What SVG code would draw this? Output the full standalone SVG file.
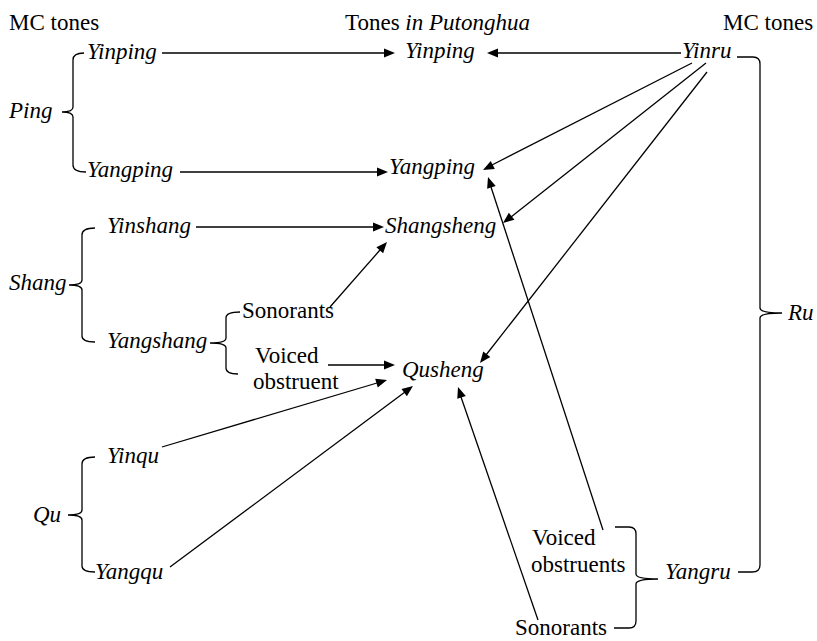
<svg xmlns="http://www.w3.org/2000/svg" width="817" height="641" viewBox="0 0 817 641">
<style>
  .t { font-family: 'Liberation Serif', serif; font-size: 23px; fill: #000; }
  .it { font-style: italic; }
  .br { fill: none; stroke: #000; stroke-width: 1.3; }
  .cn { fill: none; stroke: #000; stroke-width: 1.3; }
  .ah { fill: #000; stroke: none; }
</style>
<rect width="817" height="641" fill="#fff"/>
<g id="headers">
  <text class="t" style="font-family:'Liberation Serif'" x="9" y="30">MC tones</text>
  <text class="t" style="font-family:'Liberation Serif'" x="345" y="30">Tones <tspan class="it">in Putonghua</tspan></text>
  <text class="t" style="font-family:'Liberation Serif'" x="723" y="30">MC tones</text>
</g>

<g id="ping">
  <text class="t it" style="font-family:'Liberation Serif'" x="9" y="118">Ping</text>
  <path class="br" d="M84,53 Q73,53 73,60 L73,107 Q73,112 62,112 Q73,112 73,117 L73,165 Q73,172 86,172"/>
</g>
<g id="yinping-mc"><text class="t it" style="font-family:'Liberation Serif'" x="87" y="59">Yinping</text></g>
<g id="yangping-mc"><text class="t it" style="font-family:'Liberation Serif'" x="87" y="177">Yangping</text></g>

<g id="shang">
  <text class="t it" style="font-family:'Liberation Serif'" x="9" y="290">Shang</text>
  <path class="br" d="M95,228 Q82,228 82,235 L82,280 Q82,285 69,285 Q82,285 82,290 L82,336 Q82,342 95,342"/>
</g>
<g id="yinshang"><text class="t it" style="font-family:'Liberation Serif'" x="107" y="233">Yinshang</text></g>
<g id="yangshang">
  <text class="t it" style="font-family:'Liberation Serif'" x="107" y="348">Yangshang</text>
  <path class="br" d="M240,312 Q226,312 226,318 L226,338 Q226,343 210,343 Q226,343 226,348 L226,368 Q226,374 238,374"/>
</g>
<g id="sonorants-shang"><text class="t" style="font-family:'Liberation Serif'" x="242" y="318">Sonorants</text></g>
<g id="voiced-obstruent"><text class="t" style="font-family:'Liberation Serif'" x="255" y="363">Voiced</text><text class="t" style="font-family:'Liberation Serif'" x="253" y="389">obstruent</text></g>

<g id="qu">
  <text class="t it" style="font-family:'Liberation Serif'" x="33" y="522">Qu</text>
  <path class="br" d="M95,457 Q82,457 82,464 L82,510 Q82,515 68,515 Q82,515 82,520 L82,566 Q82,572 95,572"/>
</g>
<g id="yinqu"><text class="t it" style="font-family:'Liberation Serif'" x="107" y="463">Yinqu</text></g>
<g id="yangqu"><text class="t it" style="font-family:'Liberation Serif'" x="95" y="579">Yangqu</text></g>

<g id="yinping"><text class="t it" style="font-family:'Liberation Serif'" x="405" y="58">Yinping</text></g>
<g id="yangping"><text class="t it" style="font-family:'Liberation Serif'" x="389" y="174">Yangping</text></g>
<g id="shangsheng"><text class="t it" style="font-family:'Liberation Serif'" x="385" y="233">Shangsheng</text></g>
<g id="qusheng"><text class="t it" style="font-family:'Liberation Serif'" x="402" y="377">Qusheng</text></g>

<g id="ru">
  <text class="t it" style="font-family:'Liberation Serif'" x="788" y="320">Ru</text>
  <path class="br" d="M737,57 L753,57 Q760,57 760,64 L760,308 Q760,313 782,313 Q760,313 760,318 L760,565 Q760,572 752,572 L738,572"/>
</g>
<g id="yinru"><text class="t it" style="font-family:'Liberation Serif'" x="682" y="58">Yinru</text></g>
<g id="yangru">
  <text class="t it" style="font-family:'Liberation Serif'" x="665" y="579">Yangru</text>
  <path class="br" d="M615,527 L629,527 Q636,527 636,534 L636,574 Q636,579 658,579 Q636,579 636,584 L636,621 Q636,628 629,628 L614,628"/>
</g>
<g id="voiced-obstruents"><text class="t" style="font-family:'Liberation Serif'" x="532" y="545">Voiced</text><text class="t" style="font-family:'Liberation Serif'" x="531" y="572">obstruents</text></g>
<g id="sonorants-ru"><text class="t" style="font-family:'Liberation Serif'" x="515" y="635">Sonorants</text></g>

<g id="connectors">
  <line class="cn" x1="162" y1="53" x2="385" y2="53"/>
  <polygon class="ah" points="395,53 384,48.5 384,57.5"/>
  <line class="cn" x1="180" y1="172" x2="378" y2="172"/>
  <polygon class="ah" points="388,172 377,167.5 377,176.5"/>
  <line class="cn" x1="196" y1="227" x2="374" y2="227"/>
  <polygon class="ah" points="384,227 373,222.5 373,231.5"/>
  <line class="cn" x1="330" y1="307" x2="380" y2="250"/>
  <polygon class="ah" points="387,242 383.13,253.24 376.37,247.3"/>
  <line class="cn" x1="328" y1="365" x2="385" y2="365"/>
  <polygon class="ah" points="395,365 384,360.5 384,369.5"/>
  <line class="cn" x1="162" y1="447" x2="377" y2="383"/>
  <polygon class="ah" points="387,380 377.74,387.45 375.18,378.83"/>
  <line class="cn" x1="170" y1="567" x2="405" y2="392"/>
  <polygon class="ah" points="413,386 406.87,396.18 401.49,388.96"/>
  <line class="cn" x1="681" y1="53" x2="497" y2="53"/>
  <polygon class="ah" points="487,53 498,48.5 498,57.5"/>
  <line class="cn" x1="692" y1="63" x2="492" y2="165"/>
  <polygon class="ah" points="483,170 490.74,160.98 494.84,169"/>
  <line class="cn" x1="706" y1="63" x2="511" y2="217"/>
  <polygon class="ah" points="503,223 514.43,219.72 508.85,212.66"/>
  <line class="cn" x1="707" y1="72" x2="486" y2="355"/>
  <polygon class="ah" points="480,363 490.32,357.1 483.22,351.56"/>
  <line class="cn" x1="603" y1="530" x2="491" y2="187"/>
  <polygon class="ah" points="488,177 495.69,186.07 487.13,188.85"/>
  <line class="cn" x1="538" y1="620" x2="461" y2="397"/>
  <polygon class="ah" points="458,387 465.83,395.94 457.31,398.86"/>
</g>
</svg>
